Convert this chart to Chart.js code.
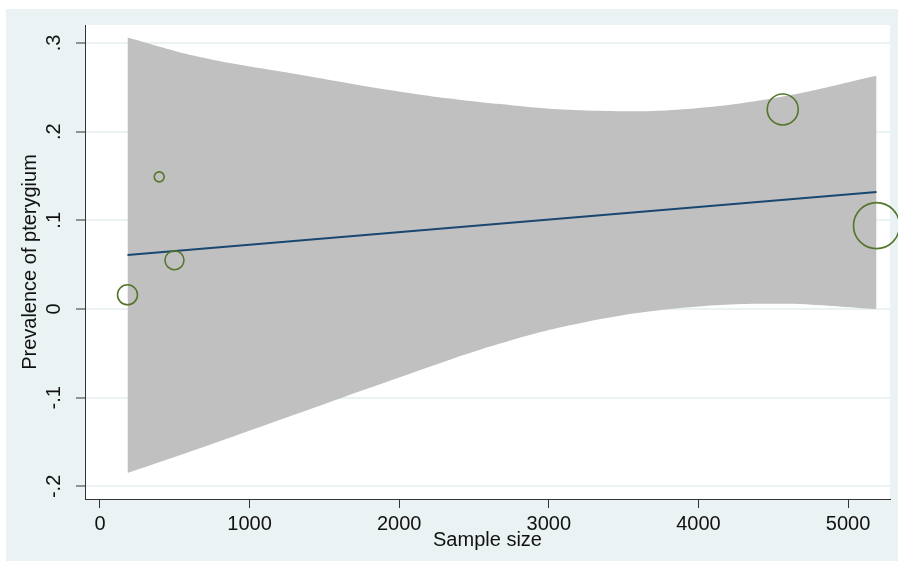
<!DOCTYPE html>
<html>
<head>
<meta charset="utf-8">
<script src="https://cdn.jsdelivr.net/npm/chart.js@4/dist/chart.umd.min.js"></script>
<style>
  html, body { margin: 0; padding: 0; background: #ffffff; }
  #wrap { position: absolute; left: 6px; top: 9px; width: 892px; height: 552px; background: #EAF2F3; }
  canvas { display: block; }
</style>
</head>
<body>
<div id="wrap"><canvas id="c" width="892" height="552"></canvas></div>
<script>
// ---- data ----
const sampleSizes  = [184, 396, 498, 4563, 5190];
const prevalence   = [0.016, 0.149, 0.055, 0.225, 0.094];
const studyWeights = [100, 25, 90, 240, 530];

const bandX     = [184, 668, 1337, 2005, 2674, 3209, 3877, 4545, 5190];
const bandUpper = [0.306, 0.284, 0.264, 0.245, 0.231, 0.224, 0.225, 0.239, 0.263];
const bandLower = [-0.185, -0.157, -0.117, -0.077, -0.039, -0.016, 0.001, 0.006, 0.000];

const fitX = [184, 5190];
const fitY = [0.061, 0.132];

const xTicks = [0, 1000, 2000, 3000, 4000, 5000];
const xTickLabels = ['0', '1000', '2000', '3000', '4000', '5000'];
const yTicks = [-0.2, -0.1, 0, 0.1, 0.2, 0.3];
const yTickLabels = ['-.2', '-.1', '0', '.1', '.2', '.3'];

const xTitle = 'Sample size';
const yTitle = 'Prevalence of pterygium';

// ---- build ----
const zip = (xs, ys) => xs.map((x, i) => ({ x: x, y: ys[i] }));
const labelFor = (ticks, labels) => v => {
  const i = ticks.findIndex(t => Math.abs(t - v) < 1e-9);
  return i >= 0 ? labels[i] : '';
};

const plotBg = {
  id: 'plotBg',
  beforeDraw(chart) {
    const a = chart.chartArea, ctx = chart.ctx;
    ctx.save();
    ctx.fillStyle = '#ffffff';
    ctx.fillRect(a.left, a.top, a.right - a.left, a.bottom - a.top);
    ctx.restore();
  }
};

const FONT = 'Liberation Sans, Arial, Helvetica, sans-serif';

new Chart(document.getElementById('c'), {
  type: 'scatter',
  data: {
    datasets: [
      {
        type: 'line', label: 'upper', data: zip(bandX, bandUpper),
        borderWidth: 0, pointRadius: 0, tension: 0.4,
        backgroundColor: '#C0C0C0', fill: '+1', order: 3
      },
      {
        type: 'line', label: 'lower', data: zip(bandX, bandLower),
        borderWidth: 0, pointRadius: 0, tension: 0.4, fill: false, order: 4
      },
      {
        type: 'line', label: 'fit', data: zip(fitX, fitY),
        borderColor: '#1A476F', borderWidth: 2, pointRadius: 0, fill: false, order: 2
      },
      {
        type: 'scatter', label: 'studies', data: zip(sampleSizes, prevalence),
        pointRadius: studyWeights.map(w => Math.sqrt(w)),
        pointBorderColor: '#55762B', pointBackgroundColor: 'rgba(0,0,0,0)',
        pointBorderWidth: 1.6, order: 1, clip: false
      }
    ]
  },
  options: {
    responsive: false,
    animation: false,
    events: [],
    layout: { autoPadding: false, padding: { top: 16, right: 8, left: 0, bottom: 0 } },
    plugins: { legend: { display: false }, tooltip: { enabled: false } },
    scales: {
      x: {
        type: 'linear', min: -100, max: 5280,
        afterBuildTicks: s => { s.ticks = xTicks.map(v => ({ value: v })); },
        afterFit: s => { s.height = 62; s.paddingLeft = 0; s.paddingRight = 0; },
        grid: { drawOnChartArea: false, drawTicks: true, tickLength: 9, tickColor: '#333', tickWidth: 1 },
        border: { display: true, color: '#333', width: 1 },
        ticks: { color: '#111', font: { family: FONT, size: 20 }, padding: 4, maxRotation: 0, minRotation: 0,
                 callback: labelFor(xTicks, xTickLabels) },
        title: { display: true, text: xTitle, color: '#111', font: { family: FONT, size: 20, lineHeight: 1 }, padding: { top: 0, bottom: 11 } }
      },
      y: {
        type: 'linear', min: -0.2142, max: 0.3202,
        afterBuildTicks: s => { s.ticks = yTicks.map(v => ({ value: v })); },
        afterFit: s => { s.width = 79; s.paddingTop = 0; s.paddingBottom = 0; },
        grid: { color: '#EAF2F3', lineWidth: 2, drawTicks: true, tickLength: 9, tickColor: '#333', tickWidth: 1 },
        border: { display: true, color: '#333', width: 1 },
        ticks: {
          color: '#111', font: { family: FONT, size: 20 }, padding: 10,
          minRotation: 90, maxRotation: 90, crossAlign: 'center',
          callback: labelFor(yTicks, yTickLabels)
        },
        title: { display: true, text: yTitle, color: '#111', font: { family: FONT, size: 20, lineHeight: 1 }, padding: { top: 14, bottom: 0 } }
      }
    }
  },
  plugins: [plotBg]
});
</script>
</body>
</html>
